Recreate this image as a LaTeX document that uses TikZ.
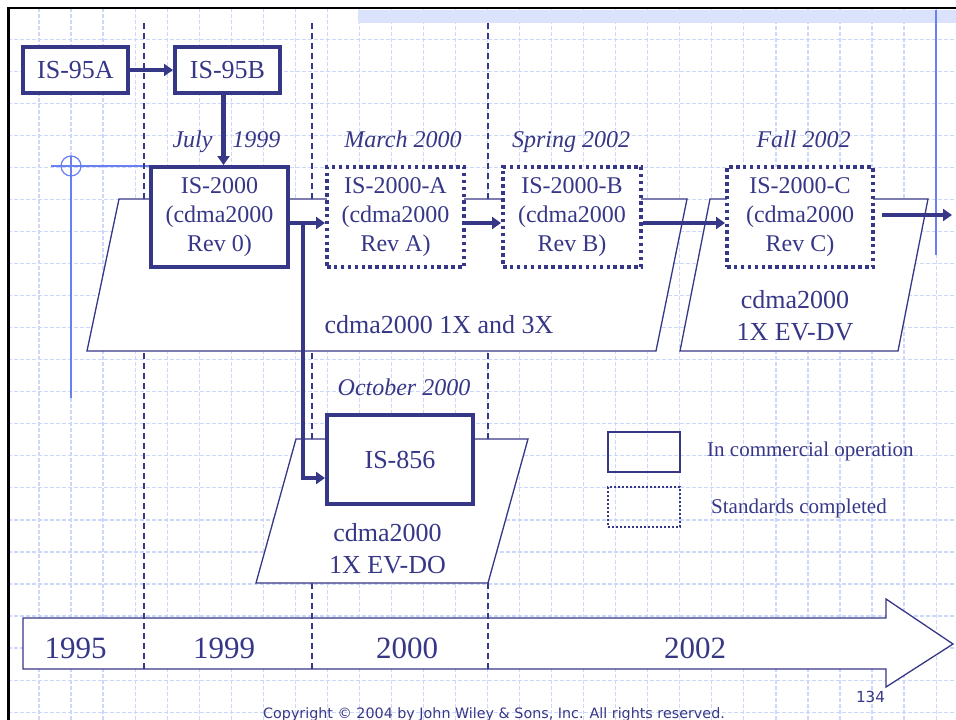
\documentclass[tikz,border=0pt]{standalone}
\usepackage{fontspec}
\setmainfont{Liberation Serif}
\newfontfamily\tahoma{DejaVu Sans}
\usetikzlibrary{arrows.meta}
\definecolor{navy}{RGB}{55,55,135}
\definecolor{gridc}{RGB}{205,215,250}
\definecolor{stripc}{RGB}{218,226,252}
\definecolor{guide}{RGB}{105,128,240}
\begin{document}
\begin{tikzpicture}[x=1pt,y=-1pt,
  solidbox/.style={draw=navy,line width=4pt,fill=white,inner sep=0pt,align=center,text=navy,
    font=\fontsize{24}{29}\selectfont},
  dotbox/.style={solidbox,dash pattern=on 3.5pt off 3.4pt},
  topbox/.style={solidbox,font=\fontsize{26}{30}\selectfont},
  arr/.style={draw=navy,line width=4.5pt,line cap=butt,-{Triangle[length=9pt,width=12pt]}},
  sep/.style={draw=navy,line width=2pt,dash pattern=on 6pt off 4pt},
  para/.style={draw=navy,line width=1.3pt,fill=white},
  datelbl/.style={text=navy,font=\fontsize{24}{29}\selectfont\itshape,anchor=base,inner sep=0pt},
  biglbl/.style={text=navy,font=\fontsize{26}{32}\selectfont,align=center,inner sep=0pt},
  yearlbl/.style={text=navy,font=\fontsize{31}{35}\selectfont,anchor=base,inner sep=0pt},
  leglbl/.style={text=navy,font=\fontsize{21}{25}\selectfont,anchor=base west,inner sep=0pt},
  gridline/.style={draw=gridc,line width=1.2pt,dash pattern=on 4pt off 2pt}]
\useasboundingbox (0,0) rectangle (956,720);
\clip (0,0) rectangle (956,720);
\fill[white] (0,0) rectangle (956,720);
% grid
\foreach \i in {0,...,28} \draw[gridline] ({39+32.04*\i},8) -- ({39+32.04*\i},720);
\foreach \j in {0,...,21} \draw[gridline] (8,{39.3+32.04*\j}) -- (956,{39.3+32.04*\j});
% frame decorations
\fill[stripc] (358,9.5) rectangle (956,23);
\draw[black,line width=2.5pt] (8.3,720) -- (8.3,8.2) -- (956,8.2);
\draw[guide,line width=2pt] (936,9.5) -- (936,255);
\draw[guide,line width=1.2pt] (71,166) circle (10);
\draw[guide,line width=1.2pt] (51,166) -- (150,166);
\draw[guide,line width=1.2pt] (71,156) -- (71,398);
% timeline arrow
\draw[navy,line width=1.3pt,fill=white] (23,618) -- (886,618) -- (886,599) -- (953,644) -- (886,687) -- (886,669) -- (23,669) -- cycle;
% dashed separators
\draw[sep] (144,23) -- (144,670);
\draw[sep] (311.5,23) -- (311.5,670);
\draw[sep] (488,23) -- (488,670);
% parallelograms
\draw[para] (119,199) -- (687,199) -- (656,351) -- (87,351) -- cycle;
\draw[para] (710,199) -- (928,199) -- (898,351) -- (680,351) -- cycle;
\draw[para] (296,439) -- (528,439) -- (488,583) -- (256,583) -- cycle;
\node[biglbl,anchor=base] (lbl1x3x) at (439,333) {cdma2000 1X and 3X};
\node[biglbl] (lbldv) at (795,316) {cdma2000\\1X EV-DV};
\node[biglbl] (lbldo) at (387.5,548.8) {cdma2000\\1X EV-DO};
% boxes
\node[topbox,minimum width=105pt,minimum height=46pt] (is95a) at (75.5,70) {IS-95A};
\node[topbox,minimum width=105pt,minimum height=46pt] (is95b) at (227.5,70) {IS-95B};
\node[solidbox,minimum width=137pt,minimum height=100pt] (is2000) at (219.5,217) {IS-2000\\(cdma2000\\Rev 0)};
\node[dotbox,minimum width=137pt,minimum height=100pt] (is2000a) at (395.5,217) {IS-2000-A\\(cdma2000\\Rev A)};
\node[dotbox,minimum width=138pt,minimum height=100pt] (is2000b) at (572,217) {IS-2000-B\\(cdma2000\\Rev B)};
\node[dotbox,minimum width=146pt,minimum height=100pt] (is2000c) at (800,217) {IS-2000-C\\(cdma2000\\Rev C)};
\node[topbox,minimum width=146pt,minimum height=89pt] (is856) at (400,459.5) {IS-856};
% date labels
\node[datelbl] (djuly) at (226.5,147) {July\hspace{20pt}1999};
\node[datelbl] (dmarch) at (403,147) {March 2000};
\node[datelbl] (dspring) at (571,147) {Spring 2002};
\node[datelbl] (dfall) at (803.5,147) {Fall 2002};
\node[datelbl] (doct) at (404,395) {October 2000};
% arrows
\coordinate (branch) at (303,223);
\coordinate (outend) at (952,215);
\draw[arr] (is95a) -- (is95b);
\draw[arr] ([xshift=-4pt]is95b.south) -- ([xshift=-4pt]is95b.south |- is2000.north);
\draw[arr] ([yshift=-6pt]is2000.east) -- ([yshift=-6pt]is2000a.west);
\draw[arr] ([yshift=-6pt]is2000a.east) -- ([yshift=-6pt]is2000b.west);
\draw[arr] ([yshift=-6pt]is2000b.east) -- ([yshift=-6pt]is2000c.west);
\draw[arr] ([xshift=7pt,yshift=2pt]is2000c.east) -- (outend);
\draw[arr] (branch) |- ([yshift=-18.5pt]is856.west);
% legend
\node[draw=navy,line width=2pt,minimum width=72pt,minimum height=40pt,inner sep=0pt] (legsolid) at (644,452) {};
\node[draw=navy,line width=2pt,dash pattern=on 2pt off 2pt,minimum width=72pt,minimum height=40pt,inner sep=0pt] (legdot) at (644,507) {};
\node[leglbl] (legsolidtxt) at (707,456.7) {In commercial operation};
\node[leglbl] (legdottxt) at (711,513.3) {Standards completed};
% years
\node[yearlbl] (y1995) at (75.5,658) {1995};
\node[yearlbl] (y1999) at (224,658) {1999};
\node[yearlbl] (y2000) at (407,658) {2000};
\node[yearlbl] (y2002) at (695,658) {2002};
% footer
\node[text=navy,font=\tahoma\fontsize{15.2}{18}\selectfont,anchor=base,inner sep=0pt] (pagenum) at (870.5,702.7) {134};
\node[text=navy,font=\tahoma\fontsize{14.3}{17}\selectfont,anchor=base west,inner sep=0pt] (copyright) at (263,718) {Copyright © 2004 by John Wiley \& Sons, Inc. All rights reserved.};
\end{tikzpicture}
\end{document}
